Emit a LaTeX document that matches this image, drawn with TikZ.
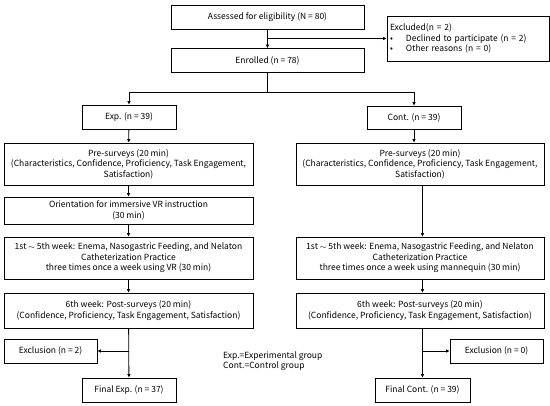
\documentclass[tikz,border=0pt]{standalone}
\usepackage{fontspec}
\setmainfont{Noto Sans CJK KR}
\usetikzlibrary{arrows.meta}
\begin{document}
\begin{tikzpicture}[x=1pt,y=-1pt,
  box/.style={draw=black,line width=0.8pt,inner sep=0pt,align=center,
    font=\fontsize{8.5}{10.5}\selectfont},
  arr/.style={line width=0.8pt,-{Latex[length=3.5pt,width=3.5pt]}},
  ln/.style={line width=0.8pt}]
\fill[white] (0,0) rectangle (550,406);
\useasboundingbox (0,0) rectangle (550,406);
\node[box,minimum width=193pt,minimum height=24pt] (assess) at (267.5,17) {Assessed for eligibility (N = 80)};
\node[box,minimum width=162pt,minimum height=45pt,align=left,text width=156pt] (excl) at (468,38.5)
  {Excluded(n = 2)\\\makebox[16pt][l]{•}Declined to participate (n = 2)\\\makebox[16pt][l]{•}Other reasons (n = 0)};
\node[box,minimum width=193pt,minimum height=24pt] (enrol) at (267.5,60.5) {Enrolled (n = 78)};
\node[box,minimum width=94pt,minimum height=24pt] (exp) at (129,117) {Exp. (n = 39)};
\node[box,minimum width=94pt,minimum height=23pt] (cont) at (414,117.5) {Cont. (n = 39)};
\node[box,minimum width=249pt,minimum height=42pt] (preL) at (128.5,164)
  {Pre-surveys (20 min)\\(Characteristics, Confidence, Proficiency, Task Engagement,\\Satisfaction)};
\node[box,minimum width=248pt,minimum height=42pt] (preR) at (420,164)
  {Pre-surveys (20 min)\\(Characteristics, Confidence, Proficiency, Task Engagement,\\Satisfaction)};
\node[box,minimum width=249pt,minimum height=27pt] (orient) at (128.5,210.5)
  {Orientation for immersive VR instruction\\(30 min)};
\node[box,minimum width=249pt,minimum height=42pt] (wkL) at (128.5,258)
  {1st $\sim$ 5th week: Enema, Nasogastric Feeding, and Nelaton\\Catheterization Practice\\three times once a week using VR (30 min)};
\node[box,minimum width=248pt,minimum height=42pt] (wkR) at (420,258)
  {1st $\sim$ 5th week: Enema, Nasogastric Feeding, and Nelaton\\Catheterization Practice\\three times once a week using mannequin (30 min)};
\node[box,minimum width=249pt,minimum height=35pt] (postL) at (128.5,310.5)
  {6th week: Post-surveys (20 min)\\(Confidence, Proficiency, Task Engagement, Satisfaction)};
\node[box,minimum width=248pt,minimum height=35pt] (postR) at (420,310.5)
  {6th week: Post-surveys (20 min)\\(Confidence, Proficiency, Task Engagement, Satisfaction)};
\node[box,minimum width=93pt,minimum height=24pt] (exclL) at (50.5,351) {Exclusion (n = 2)};
\node[box,minimum width=93pt,minimum height=24pt] (exclR) at (496.5,351) {Exclusion (n = 0)};
\node[box,minimum width=94pt,minimum height=24pt] (finL) at (129,390) {Final Exp. (n = 37)};
\node[box,minimum width=95pt,minimum height=24pt] (finR) at (422.5,390) {Final Cont. (n = 39)};
\node[anchor=west,align=left,inner sep=0pt,font=\fontsize{8.5}{10.5}\selectfont] (legend) at (223,361)
  {Exp.=Experimental group\\Cont.=Control group};
% connectors
\coordinate (b1) at (assess.south |- excl.west);
\draw[arr] (assess) -- (enrol);
\draw[arr] (b1) -- (excl.west);
\coordinate (split) at (267.5,92);
\draw[ln] (enrol.south) -- (split);
\draw[arr] (split) -| (exp.north);
\draw[arr] (split) -| (cont.north);
\draw[arr] (exp) -- (preL);
\draw[arr] (preL) -- (orient);
\draw[arr] (orient) -- (wkL);
\draw[arr] (wkL) -- (postL);
\draw[arr] (postL) -- (finL);
\coordinate (bL) at (postL.south |- exclL.east);
\draw[arr] (bL) -- (exclL.east);
\draw[arr] (cont.south) -- (cont.south |- preR.north);
\draw[arr] (finR.north |- preR.south) -- (finR.north |- wkR.north);
\draw[arr] (finR.north |- wkR.south) -- (finR.north |- postR.north);
\draw[arr] (finR.north |- postR.south) -- (finR.north);
\coordinate (bR) at (finR.north |- exclR.west);
\draw[arr] (bR) -- (exclR.west);
\end{tikzpicture}
\end{document}
